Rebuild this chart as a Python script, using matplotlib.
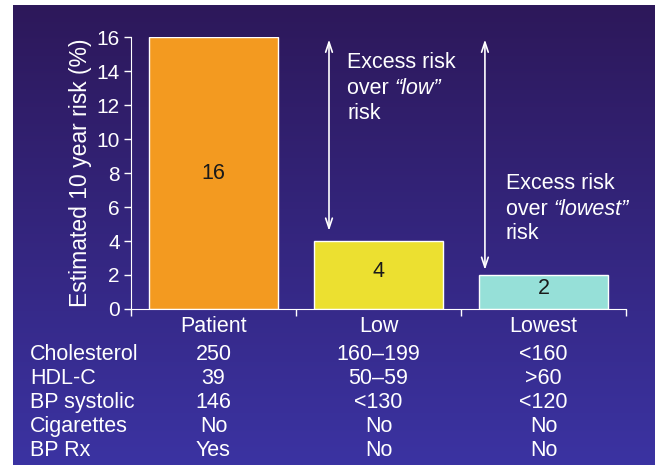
import numpy as np
import matplotlib
matplotlib.use('Agg')
from matplotlib import pyplot as plt
from matplotlib.colors import LinearSegmentedColormap

plt.rcParams['font.family'] = ['Liberation Sans', 'DejaVu Sans']

# data
categories = ['Patient', 'Low', 'Lowest']
risk = [16, 4, 2]
bar_colors = ['#F39A20', '#ECE030', '#96E0D8']
row_labels = ['Cholesterol', 'HDL-C', 'BP systolic', 'Cigarettes', 'BP Rx']
table_vals = [['250', '39', '146', 'No', 'Yes'],
              ['160\u2013199', '50\u201359', '<130', 'No', 'No'],
              ['<160', '>60', '<120', 'No', 'No']]

W, H = 655, 465
fig = plt.figure(figsize=(W / 100, H / 100), dpi=100, facecolor='white')

# gradient panel behind everything
bg = fig.add_axes([13 / W, 0, 1 - 13 / W, 460 / H], zorder=0)
cmap = LinearSegmentedColormap.from_list('bg', ['#2d185a', '#3b33a2'])
bg.imshow(np.linspace(0, 1, 256).reshape(-1, 1), aspect='auto', cmap=cmap,
          extent=[0, 1, 0, 1], origin='upper')
bg.set_axis_off()

ax = fig.add_axes([131 / W, 156 / H, 495 / W, 272 / H], zorder=1)
ax.set_facecolor('none')
x = np.arange(len(categories)) + 0.5
ax.bar(x, risk, width=0.776, color=bar_colors, edgecolor='white', linewidth=1)
for xi, v in zip(x, risk):
    ax.text(xi, v / 2 + (0.2 if v < 10 else 0), str(v), ha='center', va='center',
            fontsize=15.5, color='#1a1a1a')

ax.set_xlim(0, 3)
ax.set_ylim(0, 16)
ax.set_yticks(range(0, 17, 2))
ax.set_xticks([0, 1, 2, 3])
ax.set_xticklabels([])
for s in ['top', 'right']:
    ax.spines[s].set_visible(False)
for s in ['left', 'bottom']:
    ax.spines[s].set_color('white')
ax.tick_params(colors='white', labelsize=15, length=5, width=1, pad=3)
ax.set_ylabel('Estimated 10 year risk (%)', color='white', fontsize=16.5, labelpad=3)

# arrows and notes
arrow = dict(arrowstyle='<->,head_length=0.6,head_width=0.2', color='white',
             lw=1.2, shrinkA=0, shrinkB=0, mutation_scale=12)
ax.annotate('', xy=(1.2, 4.6), xytext=(1.2, 15.85), arrowprops=arrow)
ax.annotate('', xy=(2.145, 2.3), xytext=(2.145, 15.85), arrowprops=arrow)

def note(xp, ys, quote):
    kw = dict(color='white', fontsize=15.5, va='center', ha='left')
    ax.text(xp, ys[0], 'Excess risk', **kw)
    t = ax.text(xp, ys[1], 'over ', **kw)
    ax.annotate('\u201c' + quote + '\u201d', xy=(1, 0), xycoords=t, va='bottom',
                ha='left', style='italic', color='white', fontsize=15.5)
    ax.text(xp, ys[2], 'risk', **kw)

note(1.31, [14.5, 13.0, 11.5], 'low')
note(2.27, [7.4, 5.85, 4.45], 'lowest')

# category labels and table below the axis
for xi, c in zip(x, categories):
    ax.text(xi, -1.0, c, ha='center', va='center', color='white', fontsize=15.5)
row_y = [-2.7, -4.1, -5.5, -6.9, -8.35]
for ry, lab in zip(row_y, row_labels):
    ax.text(-101 / 165, ry, lab, ha='left', va='center', color='white',
            fontsize=15.5, clip_on=False)
for xi, col in zip(x, table_vals):
    for ry, val in zip(row_y, col):
        ax.text(xi, ry, val, ha='center', va='center', color='white',
                fontsize=15.5, clip_on=False)

fig.savefig('out.png', dpi=100, facecolor='white')
